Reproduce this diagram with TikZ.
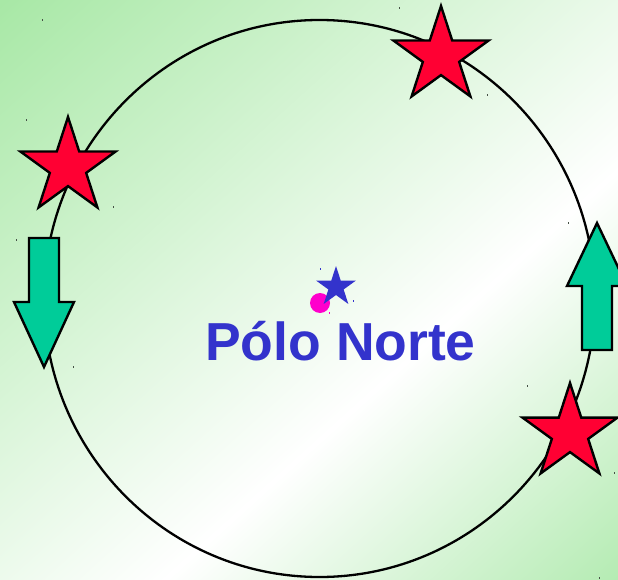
\documentclass[tikz,border=0pt]{standalone}
\usepackage{fontspec}
\setmainfont{Liberation Sans}
\usetikzlibrary{shapes.geometric}
\definecolor{bggreen}{RGB}{168,232,166}
\definecolor{starred}{RGB}{255,0,51}
\definecolor{arrowgreen}{RGB}{0,204,153}
\definecolor{textblue}{RGB}{51,51,204}
\definecolor{dotmagenta}{RGB}{255,0,204}
\definecolor{speckgray}{RGB}{70,80,70}
\pgfdeclarehorizontalshading{bgshade}{100bp}{color(0bp)=(bggreen); color(14.7bp)=(bggreen); color(60bp)=(white); color(85.3bp)=(bggreen!85!white); color(100bp)=(bggreen!85!white)}
\tikzset{
  redstar/.style={star, star points=5, star point ratio=2.618, inner sep=0pt,
    minimum size=100pt, fill=starred, draw=black, line width=2.4pt, line join=miter},
  bluestar/.style={star, star points=5, star point ratio=2.618, inner sep=0pt,
    minimum size=42pt, fill=textblue},
  arrowshape/.style={fill=arrowgreen, draw=black, line width=2.4pt, line join=miter},
  orbitline/.style={draw=black, line width=2.3pt},
  speck/.style={fill=speckgray},
}
\begin{document}
\begin{tikzpicture}[x=1pt,y=-1pt]
\useasboundingbox (0,0) rectangle (618,580);
\clip (0,0) rectangle (618,580);
\shade[shading=bgshade, shading angle=-47.9] (0,0) rectangle (618,580);
% orbit
\node[ellipse, orbitline, inner sep=0pt, minimum width=551pt, minimum height=557pt] (orbit) at (319.5,298.5) {};
% red stars
\node[redstar] (s1) at (441,56) {};
\node[redstar] (s2) at (68,167) {};
\node[redstar] (s3) at (570,433) {};
% arrows
\draw[arrowshape] (29,238) coordinate (a1) -- (59,238) -- (59,302) -- (74,302) -- (44,367) coordinate (a1tip) -- (14,302) -- (29,302) -- cycle;
\draw[arrowshape] (582,350) coordinate (a2) -- (612,350) -- (612,286) -- (627,286) -- (597,223) coordinate (a2tip) -- (567,286) -- (582,286) -- cycle;
% centre
\fill[dotmagenta] (320,303) circle (10pt);
\node[bluestar] (pole) at (336,287) {};
\node[anchor=base, text=textblue, font=\bfseries\fontsize{53.5pt}{60pt}\selectfont, inner sep=0pt] (label) at (340.5,360) {Pólo Norte};
% specks
\foreach \p in {(42,19),(399,7),(26,119),(113,206),(487,94),(16,239),(73,366),(568,222),(527,385),(614,472),(599,577)}
  \fill[speck] \p rectangle ++(1.3,2);
\fill[textblue] (320,268) rectangle ++(1.2,2);
\fill[textblue] (353,300) rectangle ++(1.2,2);
\fill[dotmagenta] (329,312) rectangle ++(1.2,2);
\end{tikzpicture}
\end{document}
